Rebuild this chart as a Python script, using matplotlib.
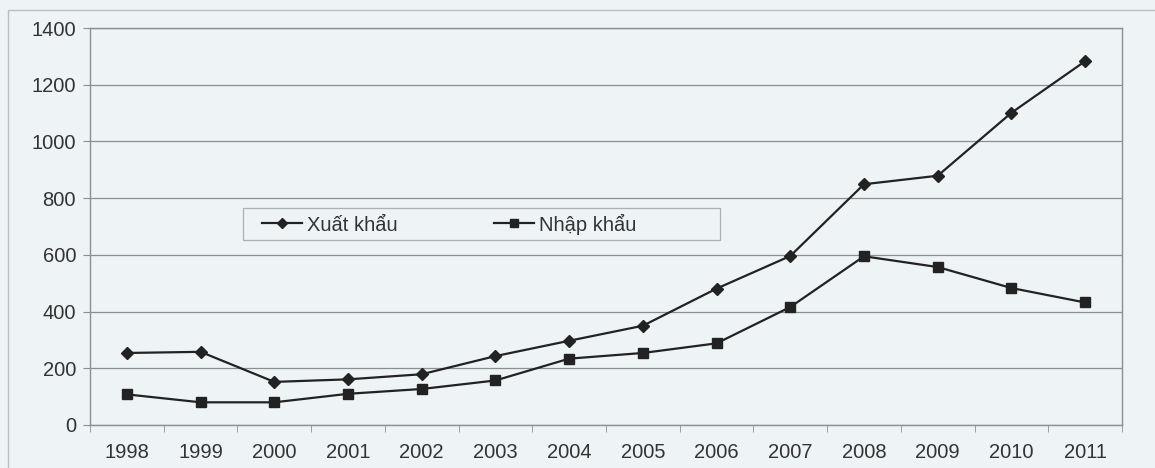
import matplotlib.pyplot as plt
from matplotlib.patches import Rectangle
import numpy as np

plt.rcParams['font.family'] = ['Liberation Sans', 'DejaVu Sans']

# Data
years = ["1998", "1999", "2000", "2001", "2002", "2003", "2004",
         "2005", "2006", "2007", "2008", "2009", "2010", "2011"]
xuat_khau = [254, 258, 152, 161, 179, 243, 297, 350, 481, 596, 849, 879, 1101, 1283]
nhap_khau = [108, 80, 80, 110, 127, 157, 234, 254, 288, 416, 595, 557, 483, 432]

bg = "#eef4f6"
ink = "#222222"
grey = "#8a8f92"

fig = plt.figure(figsize=(11.55, 4.68), dpi=100, facecolor=bg)
ax = fig.add_axes([90 / 1155, 43 / 468, (1122 - 90) / 1155, (425 - 28) / 468])
ax.set_facecolor(bg)

# outer frame of the chart
fig.patches.append(Rectangle((8 / 1155, -0.05), 1.2, (468 - 10) / 468 + 0.05,
                             transform=fig.transFigure, fill=False,
                             edgecolor="#b8bec1", lw=1.0))

x = np.arange(len(years))
ax.plot(x, xuat_khau, color=ink, lw=1.6, marker="D", markersize=6.5,
        label="Xuất khẩu")
ax.plot(x, nhap_khau, color=ink, lw=1.6, marker="s", markersize=7.5,
        label="Nhập khẩu")

ax.set_xlim(-0.5, len(years) - 0.5)
ax.set_ylim(0, 1400)
ax.set_yticks(range(0, 1401, 200))
ax.set_xticks(x)
ax.set_xticklabels(years)
ax.set_xticks(np.arange(-0.5, len(years), 1), minor=True)
ax.yaxis.grid(True, color=grey, lw=0.9)
ax.set_axisbelow(True)

for s in ax.spines.values():
    s.set_color(grey)
    s.set_linewidth(1.0)

ax.tick_params(axis="y", length=5, color=grey, labelsize=14.5, labelcolor="#333333", pad=5)
ax.tick_params(axis="x", which="major", length=0, labelsize=14.5, labelcolor="#333333", pad=13)
ax.tick_params(axis="x", which="minor", length=5, color=grey)

# legend box (Excel style, wider than its entries)
ax.add_patch(Rectangle(((243 - 90) / 1032, (425 - 240) / 397),
                       (720 - 243) / 1032, 32 / 397, transform=ax.transAxes,
                       facecolor=bg, edgecolor="#aab0b3", lw=0.9, zorder=4))
leg = ax.legend(loc="center left", bbox_to_anchor=((262 - 90) / 1032, (425 - 224) / 397),
                ncol=2, frameon=False, fontsize=14.5,
                columnspacing=4.75, handlelength=2.0, handletextpad=0.25,
                borderpad=0.0, borderaxespad=0.0, markerscale=0.75)
leg.set_zorder(5)
for t in leg.get_texts():
    t.set_color("#333333")

plt.savefig("out.png", dpi=100, facecolor=bg)
